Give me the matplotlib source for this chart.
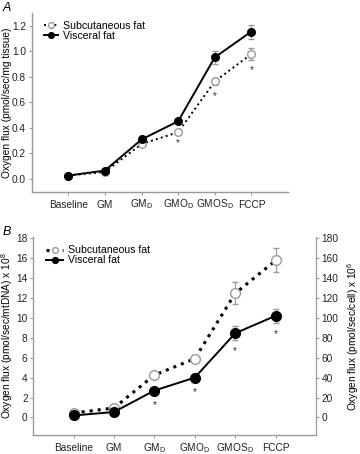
import numpy as np
import matplotlib
matplotlib.use('Agg')
import matplotlib.pyplot as plt

plt.rcParams['font.family'] = ['Liberation Sans', 'DejaVu Sans']
plt.rcParams['mathtext.default'] = 'regular'

etiquetas = ['Baseline', 'GM', 'GM$_D$', 'GMO$_D$', 'GMOS$_D$', 'FCCP']

# panel A (por tejido)
sub_a = [0.026, 0.055, 0.273, 0.366, 0.764, 0.98]
sub_a_err = [0.006, 0.008, 0.012, 0.015, 0.03, 0.05]
vis_a = [0.026, 0.065, 0.309, 0.452, 0.953, 1.156]
vis_a_err = [0.006, 0.008, 0.012, 0.015, 0.05, 0.055]
ast_a_x = [3, 4, 5]
ast_a_y = [0.283, 0.647, 0.855]

# panel B (por mtDNA)
sub_b = [0.45, 0.95, 4.25, 5.9, 12.45, 15.75]
sub_b_err = [0.15, 0.2, 0.25, 0.3, 1.1, 1.2]
vis_b = [0.2, 0.55, 2.7, 4.0, 8.45, 10.2]
vis_b_err = [0.1, 0.15, 0.25, 0.3, 0.7, 0.72]
ast_b_x = [2, 3, 4, 5]
ast_b_y = [1.25, 2.55, 6.68, 8.36]

gris = '#9a9a9a'
fs = 7.3

fig = plt.figure(figsize=(3.6, 4.54), dpi=100)
axA = fig.add_axes([0.088, 0.578, 0.712, 0.393])
axB = fig.add_axes([0.092, 0.042, 0.786, 0.436])

x = np.arange(len(etiquetas))


def estilo(ax):
    for s in ['top', 'right']:
        ax.spines[s].set_visible(False)
    for s in ['left', 'bottom']:
        ax.spines[s].set_color(gris)
        ax.spines[s].set_linewidth(1.0)
    ax.tick_params(colors=gris, labelcolor='#222222', labelsize=fs, length=2.5, width=0.8)
    ax.tick_params(axis='x', pad=9)
    ax.tick_params(axis='y', pad=1.5)
    ax.set_xticks(x)
    ax.set_xticklabels(etiquetas)
    for lab in ax.get_xticklabels():
        lab.set_va('baseline')
    ax.set_xlim(-1, 6)


def series(ax, sub, sub_err, vis, vis_err, lw_sub, ms):
    ax.errorbar(x, sub, yerr=sub_err, fmt='none', ecolor=gris, elinewidth=0.8, capsize=2.5, zorder=1)
    ax.errorbar(x, vis, yerr=vis_err, fmt='none', ecolor=gris, elinewidth=0.8, capsize=2.5, zorder=1)
    ax.plot(x, sub, ls=':', color='k', lw=lw_sub, marker='o', mfc='white', mec=gris,
            ms=ms, label='Subcutaneous fat', zorder=2)
    ax.plot(x, vis, ls='-', color='k', lw=1.4, marker='o', mfc='k', mec='k',
            ms=ms, label='Visceral fat', zorder=3)


# ---- A ----
estilo(axA)
series(axA, sub_a, sub_a_err, vis_a, vis_a_err, 1.4, 5.5)
for xi, yi in zip(ast_a_x, ast_a_y):
    axA.text(xi, yi, '*', ha='center', va='center', fontsize=7, color='#333333')
axA.set_ylim(-0.1, 1.3)
axA.set_yticks(np.arange(0, 1.21, 0.2))
axA.set_yticklabels(['%.1f' % v for v in np.arange(0, 1.21, 0.2)])
axA.set_ylabel('Oxygen flux (pmol/sec/mg tissue)', fontsize=fs, va='center')
axA.yaxis.set_label_coords(-0.098, 0.5)
axA.legend(loc='upper left', bbox_to_anchor=(0.02, 1.0), frameon=False, fontsize=7.6,
           handlelength=1.3, handletextpad=0.5, borderpad=0.2, labelspacing=0.0,
           markerscale=0.75)

# ---- B ----
estilo(axB)
axB.spines['right'].set_visible(True)
axB.spines['right'].set_color(gris)
series(axB, sub_b, sub_b_err, vis_b, vis_b_err, 2.2, 7)
for xi, yi in zip(ast_b_x, ast_b_y):
    axB.text(xi, yi, '*', ha='center', va='center', fontsize=7, color='#333333')
axB.set_ylim(-1.75, 18.1)
axB.set_yticks(np.arange(0, 19, 2))
axB.set_ylabel('Oxygen flux (pmol/sec/mtDNA) x 10$^8$', fontsize=fs, va='center')
axB.yaxis.set_label_coords(-0.092, 0.5)
axB.legend(loc='upper left', bbox_to_anchor=(0.02, 0.995), frameon=False, fontsize=7.6,
           handlelength=1.6, handletextpad=0.5, borderpad=0.2, labelspacing=0.0,
           markerscale=0.6)

axB2 = axB.twinx()
axB2.set_ylim(-17.5, 181)
axB2.set_yticks(np.arange(0, 181, 20))
for s in ['top', 'left', 'bottom']:
    axB2.spines[s].set_visible(False)
axB2.spines['right'].set_color(gris)
axB2.tick_params(colors=gris, labelcolor='#222222', labelsize=fs, length=2.5, width=0.8, pad=1.5)
axB2.set_ylabel('Oxygen flux (pmol/sec/cell) x 10$^6$', fontsize=fs, va='center')
axB2.yaxis.set_label_coords(1.13, 0.5)

fig.text(0.008, 0.995, 'A', fontsize=9, style='italic', va='top')
fig.text(0.008, 0.503, 'B', fontsize=9, style='italic', va='top')

fig.savefig('out.png', dpi=100)
